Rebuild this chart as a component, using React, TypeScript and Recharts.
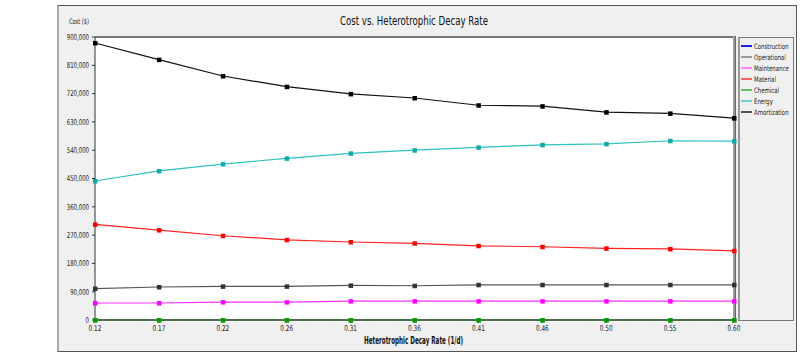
import { LineChart, Line, XAxis, YAxis } from "recharts"

const rates = ["0.12", "0.17", "0.22", "0.26", "0.31", "0.36", "0.41", "0.46", "0.50", "0.55", "0.60"]

const construction = [881000, 828000, 776000, 742000, 719000, 706000, 683000, 680000, 661000, 657000, 642000]
const operational = [0, 0, 0, 0, 0, 0, 0, 0, 0, 0, 0]
const maintenance = [54000, 54000, 57000, 57000, 60000, 60000, 60000, 60000, 60000, 60000, 60000]
const material = [304000, 286000, 268000, 255000, 248000, 244000, 236000, 233000, 228000, 226000, 220000]
const chemical = [0, 0, 0, 0, 0, 0, 0, 0, 0, 0, 0]
const energy = [442000, 474000, 496000, 514000, 530000, 540000, 549000, 557000, 560000, 570000, 569000]
const amortization = [100000, 105000, 107000, 107000, 110000, 109000, 112000, 112000, 112000, 112000, 112000]

const yTicks = [0, 90000, 180000, 270000, 360000, 450000, 540000, 630000, 720000, 810000, 900000]

const series = [
  { key: "construction", name: "Construction", line: "#111111", dot: "#000000", legend: "#2020e0" },
  { key: "operational", name: "Operational", line: "#888888", dot: "#888888", legend: "#999999" },
  { key: "maintenance", name: "Maintenance", line: "#ff30ff", dot: "#ff00ff", legend: "#ff80ff" },
  { key: "material", name: "Material", line: "#ff2020", dot: "#ff0000", legend: "#ff6060" },
  { key: "chemical", name: "Chemical", line: "#00a000", dot: "#00a000", legend: "#60c060" },
  { key: "energy", name: "Energy", line: "#30c0c0", dot: "#10a8a8", legend: "#70d0d0" },
  { key: "amortization", name: "Amortization", line: "#555555", dot: "#333333", legend: "#555555" },
]

const values: Record<string, number[]> = { construction, operational, maintenance, material, chemical, energy, amortization }

const data = rates.map((rate, i) => {
  const row: any = { rate }
  series.forEach((s) => (row[s.key] = values[s.key][i]))
  return row
})

const font = "'DejaVu Sans Condensed', 'Liberation Sans', Arial, sans-serif"

const squareDot = (color: string) => (props: any) => {
  const { cx, cy, index } = props
  if (cx == null || cy == null) return <g key={index} />
  return <rect key={index} x={cx - 2} y={cy - 2} width={4.5} height={4.5} fill={color} />
}

// narrow tick labels, squeezed horizontally like the original
const YTick = (props: any) => {
  const { x, y, payload } = props
  return (
    <g transform={`translate(${x},${y}) scale(0.75,1)`}>
      <text x={0} y={0} dy="0.35em" textAnchor="end" fontSize={8} fill="#222" fontFamily={font}>
        {Number(payload.value).toLocaleString("en-US")}
      </text>
    </g>
  )
}

const XTick = (props: any) => {
  const { x, y, payload } = props
  return (
    <g transform={`translate(${x},${y}) scale(0.8,1)`}>
      <text x={0} y={0} dy="0.71em" textAnchor="middle" fontSize={8} fill="#222" fontFamily={font}>
        {payload.value}
      </text>
    </g>
  )
}

export default function App() {
  return (
    <div style={{ position: "absolute", left: 0, top: 0, width: 800, height: 357, background: "#fff", fontFamily: font }}>
      {/* outer frame */}
      <div style={{ position: "absolute", left: 57, top: 5, width: 737, height: 345, background: "#f0f0f0", border: "1px solid #555", borderLeft: "2px solid #aaa" }} />
      {/* plot area */}
      <div style={{ position: "absolute", left: 95, top: 36, width: 639, height: 284, background: "#fff", borderTop: "2px solid #777" }} />
      <div style={{ position: "absolute", left: 733, top: 36, width: 2, height: 286, background: "#999", borderRight: "1px solid #666" }} />
      {/* legend box */}
      <div style={{ position: "absolute", left: 738, top: 37, width: 53, height: 282, background: "#f0f0f0", border: "1px solid #777", borderLeft: "2px solid #999" }}>
        {series.map((s, i) => (
          <div key={s.key} style={{ position: "absolute", left: 1, top: 3 + i * 11, height: 10, display: "flex", alignItems: "center" }}>
            <div style={{ width: 11, height: 1.5, background: s.legend, marginRight: 2 }} />
            <span style={{ fontSize: 7.5, color: "#222", whiteSpace: "nowrap", display: "inline-block", transform: "scaleX(0.8)", transformOrigin: "left center" }}>
              {s.name}
            </span>
          </div>
        ))}
      </div>
      <div style={{ position: "absolute", left: 0, top: 0 }}>
        <LineChart width={800} height={357} data={data} margin={{ top: 37, right: 66, bottom: 7, left: 55 }}>
          <XAxis dataKey="rate" height={30} tickSize={3} tickMargin={2} interval={0} stroke="#333" tick={<XTick />} />
          <YAxis
            width={40}
            domain={[0, 900000]}
            ticks={yTicks}
            tickSize={3}
            tickMargin={3}
            interval={0}
            stroke="#333"
            tick={<YTick />}
          />
          {series.map((s) => (
            <Line
              key={s.key}
              type="linear"
              dataKey={s.key}
              name={s.name}
              stroke={s.line}
              strokeWidth={1.2}
              dot={squareDot(s.dot)}
              activeDot={false}
              isAnimationActive={false}
            />
          ))}
        </LineChart>
      </div>
      <svg width={800} height={357} style={{ position: "absolute", left: 0, top: 0, pointerEvents: "none" }}>
        <text x={340} y={25} fontSize={13} fill="#111" fontFamily={font} textLength={148} lengthAdjust="spacingAndGlyphs">
          Cost vs. Heterotrophic Decay Rate
        </text>
        <text x={69} y={24} fontSize={7.5} fill="#222" fontFamily={font} textLength={20} lengthAdjust="spacingAndGlyphs">
          Cost ($)
        </text>
        <text x={364} y={344} fontSize={10} fontWeight="bold" fill="#111" fontFamily={font} textLength={99} lengthAdjust="spacingAndGlyphs">
          Heterotrophic Decay Rate (1/d)
        </text>
      </svg>
    </div>
  )
}
